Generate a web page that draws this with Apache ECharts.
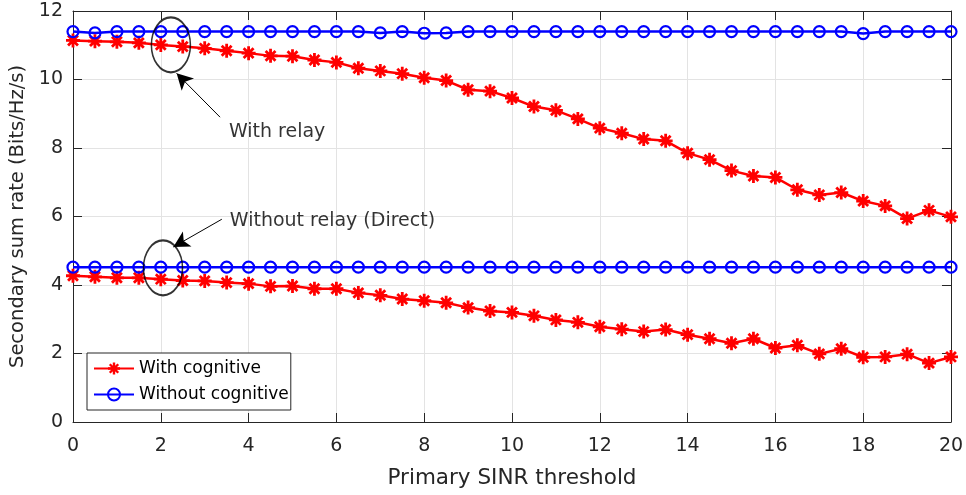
<!DOCTYPE html>
<html>
<head>
<meta charset="utf-8">
<script src="https://cdn.jsdelivr.net/npm/echarts@6/dist/echarts.min.js"></script>
<style>
  html, body { margin: 0; padding: 0; background: #ffffff; }
  #chart { width: 966px; height: 495px; }
</style>
</head>
<body>
<div id="chart"></div>
<script>
// Primary SINR threshold (x axis)
const sinrThreshold = [0, 0.5, 1, 1.5, 2, 2.5, 3, 3.5, 4, 4.5, 5, 5.5, 6, 6.5, 7, 7.5, 8, 8.5, 9, 9.5,
  10, 10.5, 11, 11.5, 12, 12.5, 13, 13.5, 14, 14.5, 15, 15.5, 16, 16.5, 17, 17.5, 18, 18.5, 19, 19.5, 20];

// Secondary sum rate with relay
const relayWithCognitive = [11.14, 11.12, 11.10, 11.07, 11.01, 10.96, 10.91, 10.84, 10.77, 10.69,
  10.68, 10.57, 10.50, 10.33, 10.25, 10.17, 10.05, 9.97, 9.70, 9.66,
  9.46, 9.21, 9.10, 8.85, 8.58, 8.43, 8.26, 8.21, 7.85, 7.66,
  7.34, 7.18, 7.14, 6.78, 6.63, 6.70, 6.45, 6.31, 5.94, 6.18, 5.99];
const relayWithoutCognitive = [11.40, 11.36, 11.40, 11.40, 11.40, 11.40, 11.40, 11.40, 11.40, 11.40,
  11.40, 11.40, 11.40, 11.40, 11.36, 11.40, 11.35, 11.36, 11.40, 11.40,
  11.40, 11.40, 11.40, 11.40, 11.40, 11.40, 11.40, 11.40, 11.40, 11.40,
  11.40, 11.40, 11.40, 11.40, 11.40, 11.40, 11.34, 11.40, 11.40, 11.40, 11.40];

// Secondary sum rate without relay (direct link)
const directWithCognitive = [4.27, 4.24, 4.21, 4.21, 4.17, 4.13, 4.12, 4.07, 4.04, 3.96,
  3.97, 3.89, 3.89, 3.77, 3.70, 3.59, 3.54, 3.48, 3.34, 3.24,
  3.20, 3.10, 2.98, 2.91, 2.78, 2.71, 2.64, 2.70, 2.55, 2.43,
  2.30, 2.43, 2.16, 2.24, 1.99, 2.14, 1.89, 1.90, 1.98, 1.72, 1.90];
const directWithoutCognitive = [4.52, 4.52, 4.52, 4.52, 4.52, 4.52, 4.52, 4.52, 4.52, 4.52,
  4.52, 4.52, 4.52, 4.52, 4.52, 4.52, 4.52, 4.52, 4.52, 4.52,
  4.52, 4.52, 4.52, 4.52, 4.52, 4.52, 4.52, 4.52, 4.52, 4.52,
  4.52, 4.52, 4.52, 4.52, 4.52, 4.52, 4.52, 4.52, 4.52, 4.52, 4.52];

const legendNames = ['With cognitive', 'Without cognitive'];

// Callouts: ellipse centres, arrow ends and text anchors, in data units
const calloutCentres = [[2.23, 11.01], [2.05, 4.50]];
const arrowStarts = [[3.35, 8.90], [3.39, 5.92]];
const arrowTips = [[2.36, 10.18], [2.285, 5.11]];
const noteAnchors = [[3.54, 8.455], [3.56, 5.86]];
const noteTexts = ['With relay', 'Without relay (Direct)'];

const FONT = 'DejaVu Sans';
const AXIS_COLOR = '#262626';
const GRID_COLOR = '#e3e3e3';

// eight-spoke asterisk marker
const asteriskPath = 'path://M40 0L60 0L60 100L40 100Z M0 40L100 40L100 60L0 60Z ' +
  'M7.6 21.7L21.7 7.6L92.4 78.3L78.3 92.4Z M78.3 7.6L92.4 21.7L21.7 92.4L7.6 78.3Z';

const pairs = ys => sinrThreshold.map((x, i) => [x, ys[i]]);

const redSeries = (ys) => ({
  name: legendNames[0],
  type: 'line',
  data: pairs(ys),
  symbol: asteriskPath,
  symbolSize: 14,
  showAllSymbol: true,
  lineStyle: { color: '#ff0000', width: 2.5 },
  itemStyle: { color: '#ff0000', borderWidth: 0 },
  emphasis: { disabled: true },
  z: 2
});

const blueSeries = (ys) => ({
  name: legendNames[1],
  type: 'line',
  data: pairs(ys),
  symbol: 'circle',
  symbolSize: 11,
  showAllSymbol: true,
  lineStyle: { color: '#0000ff', width: 2.5 },
  itemStyle: { color: 'rgba(255,255,255,0)', borderColor: '#0000ff', borderWidth: 2.2 },
  emphasis: { disabled: true },
  z: 3
});

const baseX = {
  type: 'value', min: 0, max: 20, interval: 2,
  axisLine: { show: true, onZero: false, lineStyle: { color: AXIS_COLOR, width: 1 } },
  axisTick: { show: true, inside: true, length: 9, lineStyle: { color: AXIS_COLOR, width: 1 } }
};
const baseY = {
  type: 'value', min: 0, max: 12, interval: 2,
  axisLine: { show: true, onZero: false, lineStyle: { color: AXIS_COLOR, width: 1 } },
  axisTick: { show: true, inside: true, length: 9, lineStyle: { color: AXIS_COLOR, width: 1 } }
};

const chart = echarts.init(document.getElementById('chart'), null, { renderer: 'canvas' });

chart.setOption({
  animation: false,
  backgroundColor: '#ffffff',
  grid: { left: 73, right: 15, top: 11, bottom: 73, containLabel: false, outerBoundsMode: 'none' },
  legend: {
    data: legendNames,
    orient: 'vertical',
    left: 87, top: 353,
    padding: [7, 2, 7, 6],
    itemWidth: 40, itemHeight: 15, itemGap: 9,
    backgroundColor: '#ffffff',
    borderColor: AXIS_COLOR, borderWidth: 1, borderRadius: 0,
    textStyle: { fontFamily: FONT, fontSize: 17, color: '#000000', padding: [0, 0, 0, 0] },
    selectedMode: false
  },
  xAxis: [
    Object.assign({}, baseX, {
      position: 'bottom',
      name: 'Primary SINR threshold',
      nameLocation: 'middle',
      nameGap: 45,
      nameTextStyle: { fontFamily: FONT, fontSize: 21.5, color: AXIS_COLOR },
      axisLabel: { fontFamily: FONT, fontSize: 19, color: AXIS_COLOR, margin: 15 },
      splitLine: { show: true, lineStyle: { color: GRID_COLOR, width: 1 } }
    }),
    Object.assign({}, baseX, {
      position: 'top',
      axisLabel: { show: false },
      splitLine: { show: false }
    })
  ],
  yAxis: [
    Object.assign({}, baseY, {
      position: 'left',
      name: 'Secondary sum rate (Bits/Hz/s)',
      nameLocation: 'middle',
      nameGap: 39,
      nameTextStyle: { fontFamily: FONT, fontSize: 19.5, color: AXIS_COLOR },
      axisLabel: { fontFamily: FONT, fontSize: 19, color: AXIS_COLOR, margin: 10 },
      splitLine: { show: true, lineStyle: { color: GRID_COLOR, width: 1 } }
    }),
    Object.assign({}, baseY, {
      position: 'right',
      axisLabel: { show: false },
      splitLine: { show: false }
    })
  ],
  series: [
    redSeries(relayWithCognitive),
    redSeries(directWithCognitive),
    blueSeries(relayWithoutCognitive),
    blueSeries(directWithoutCognitive),
    {
      name: 'callouts',
      type: 'scatter',
      data: calloutCentres,
      symbol: 'circle',
      symbolSize: [39, 55],
      itemStyle: { color: 'rgba(255,255,255,0)', borderColor: '#000000', borderWidth: 1.8 },
      silent: true,
      z: 5,
      markLine: {
        silent: true,
        symbol: ['none', 'arrow'],
        symbolSize: [13, 16],
        label: { show: false },
        lineStyle: { color: '#000000', width: 1, type: 'solid' },
        emphasis: { disabled: true },
        data: arrowStarts.map((s, i) => [{ coord: s }, { coord: arrowTips[i] }])
      }
    },
    {
      name: 'notes',
      type: 'scatter',
      data: noteAnchors,
      symbolSize: 1,
      itemStyle: { color: 'rgba(255,255,255,0)' },
      silent: true,
      z: 5,
      label: {
        show: true,
        position: 'right',
        distance: 0,
        fontFamily: FONT,
        fontSize: 19,
        color: '#000000',
        formatter: p => noteTexts[p.dataIndex]
      }
    }
  ]
});
</script>
</body>
</html>
